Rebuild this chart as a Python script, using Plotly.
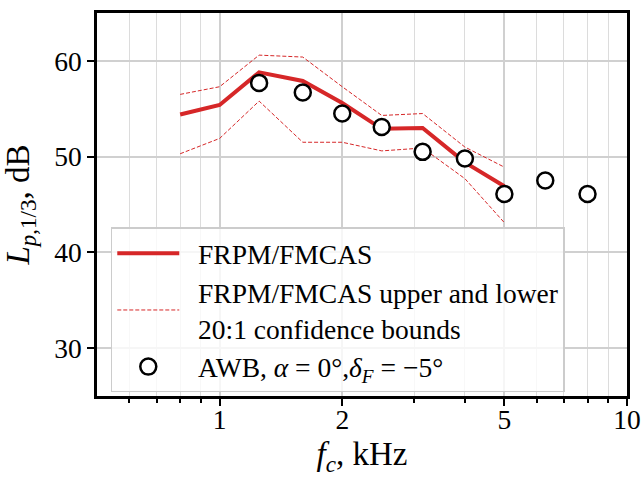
import plotly.graph_objects as go

freq_model = [0.8, 1.0, 1.25, 1.6, 2.0, 2.5, 3.15, 4.0, 5.0]
lp_model = [54.4, 55.4, 58.8, 57.9, 55.6, 52.9, 53.0, 49.4, 46.9]
lp_upper = [56.5, 57.3, 60.6, 60.4, 57.3, 54.3, 54.5, 51.0, 48.9]
lp_lower = [50.3, 51.9, 55.8, 51.5, 51.5, 50.6, 50.9, 47.7, 43.1]

freq_exp = [1.25, 1.6, 2.0, 2.5, 3.15, 4.0, 5.0, 6.3, 8.0]
lp_exp = [57.7, 56.7, 54.5, 53.1, 50.5, 49.8, 46.1, 47.5, 46.1]
err_exp = [0.4, 0.4, 0.4, 0.4, 0.4, 0.4, 0.4, 0.4, 0.4]

x_ticks = [1, 2, 5, 10]
x_ticklabels = ["1", "2", "5", "10"]
x_minor = [0.6, 0.7, 0.8, 0.9, 3, 4, 6, 7, 8, 9]
y_ticks = [30, 40, 50, 60]

RED = "#d62728"
FONT = "Liberation Serif"
FS = 27.5
SP = "&nbsp;&nbsp;"

fig = go.Figure()
fig.add_trace(go.Scatter(x=freq_model, y=lp_model, mode="lines",
                         line=dict(color=RED, width=4), name=SP + "FRPM/FMCAS"))
fig.add_trace(go.Scatter(x=freq_model, y=lp_upper, mode="lines",
                         line=dict(color=RED, width=1, dash="4px,2px"),
                         name=SP + "FRPM/FMCAS upper and lower<br>" + SP + "20:1 confidence bounds"))
fig.add_trace(go.Scatter(x=freq_model, y=lp_lower, mode="lines",
                         line=dict(color=RED, width=1, dash="4px,2px"),
                         showlegend=False))
fig.add_trace(go.Scatter(x=freq_exp, y=lp_exp, mode="markers",
                         error_y=dict(type="data", array=err_exp, color="black", thickness=1.5, width=4),
                         marker=dict(symbol="circle", size=16, color="white",
                                     line=dict(color="black", width=2.5)),
                         name=SP + "AWB, <i>α</i> = 0°,<i>δ<sub>F</sub></i> = −5°"))

fig.update_layout(
    width=641, height=477,
    margin=dict(l=97, r=14, t=13, b=81),
    paper_bgcolor="white", plot_bgcolor="white",
    font=dict(family=FONT, size=FS, color="black"),
    legend=dict(x=0.026, y=0.44, xanchor="left", yanchor="top",
                bgcolor="rgba(255,255,255,0.8)", bordercolor="#cccccc", borderwidth=1.5,
                font=dict(family=FONT, size=FS), itemwidth=62, tracegroupgap=0),
)
fig.update_xaxes(type="log", range=[-0.30103, 1.0], automargin=False,
                 tickvals=x_ticks, ticktext=x_ticklabels, ticklabelstandoff=-10,
                 ticks="outside", ticklen=7, tickwidth=2, tickcolor="black",
                 showgrid=True, gridcolor="#d0d0d0", gridwidth=2,
                 showline=True, linecolor="black", linewidth=2.5, mirror=True,
                 minor=dict(tickvals=x_minor, ticks="outside", ticklen=4, tickwidth=1.5,
                            tickcolor="black", showgrid=True, gridcolor="#dcdcdc", gridwidth=1),
                 title=dict(text="<i>f<sub>c</sub></i>, kHz"),
                 zeroline=False)
fig.update_yaxes(range=[25, 65], tickvals=y_ticks, automargin=False,
                 ticks="outside", ticklen=7, tickwidth=2, tickcolor="black",
                 showgrid=True, gridcolor="#d0d0d0", gridwidth=2,
                 showline=True, linecolor="black", linewidth=2.5, mirror=True,
                 title=dict(text="<i>L<sub>p</sub></i><sub>,1/3</sub>, dB"),
                 zeroline=False)

fig.write_html("out.html")
